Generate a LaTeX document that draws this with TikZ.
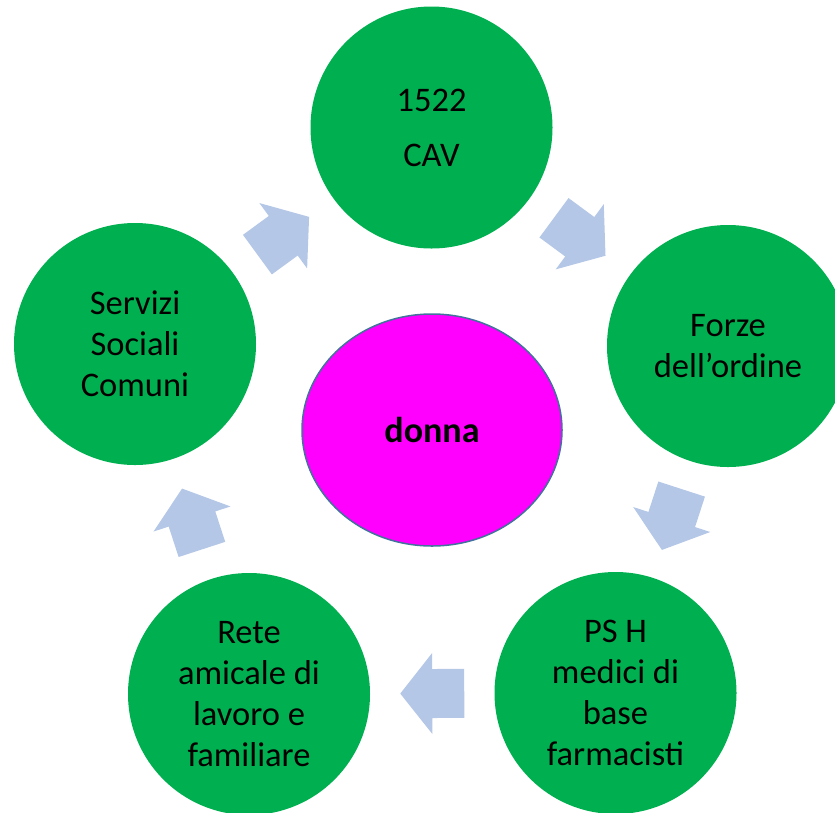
\documentclass[tikz,border=0pt]{standalone}
\usepackage{fontspec}
\setmainfont{Carlito}
\usetikzlibrary{calc,shapes.geometric}
\definecolor{cgreen}{HTML}{00B050}
\definecolor{cmag}{HTML}{FF00FF}
\definecolor{carrow}{HTML}{B4C7E7}
\definecolor{cborder}{HTML}{41719C}
\tikzset{
  hub/.style={circle, fill=cgreen, minimum size=242pt, inner sep=0pt, align=center,
    font=\fontsize{34.5}{41}\selectfont, text=black},
  core/.style={ellipse, fill=cmag, draw=cborder, line width=1.5pt, minimum width=260pt,
    minimum height=232pt, inner sep=0pt, font=\bfseries\fontsize{36}{43}\selectfont},
  blockarrow/.style={fill=carrow},
}
\newcommand\cyclearrow[2]{%
  \pgfmathanglebetweenpoints{\pgfpointanchor{#1}{center}}{\pgfpointanchor{#2}{center}}%
  \let\arrang\pgfmathresult
  \begin{scope}[shift={($(#1)!0.5!(#2)$)}, rotate=\arrang]
    \fill[blockarrow] (-32,-24.5) -- (0,-24.5) -- (0,-40.5) -- (32,0) -- (0,40.5)
      -- (0,24.5) -- (-32,24.5) -- cycle;
  \end{scope}}
\begin{document}
\begin{tikzpicture}[x=1pt,y=-1pt]
\clip (0,0) rectangle (835,812);
\node[core] (donna) at (432,430) {donna};
\node[hub] (cav) at (431.5,127.5) {1522\\[14pt]CAV};
\node[hub] (forze) at (728,346) {Forze\\dell’ordine};
\node[hub] (ps) at (615.5,693) {PS H\\medici di\\base\\farmacisti};
\node[hub] (rete) at (249,694) {Rete\\amicale di\\lavoro e\\familiare};
\node[hub] (servizi) at (135,344) {Servizi\\Sociali\\Comuni};
\cyclearrow{servizi}{cav}
\cyclearrow{cav}{forze}
\cyclearrow{forze}{ps}
\cyclearrow{ps}{rete}
\cyclearrow{rete}{servizi}
\end{tikzpicture}
\end{document}
